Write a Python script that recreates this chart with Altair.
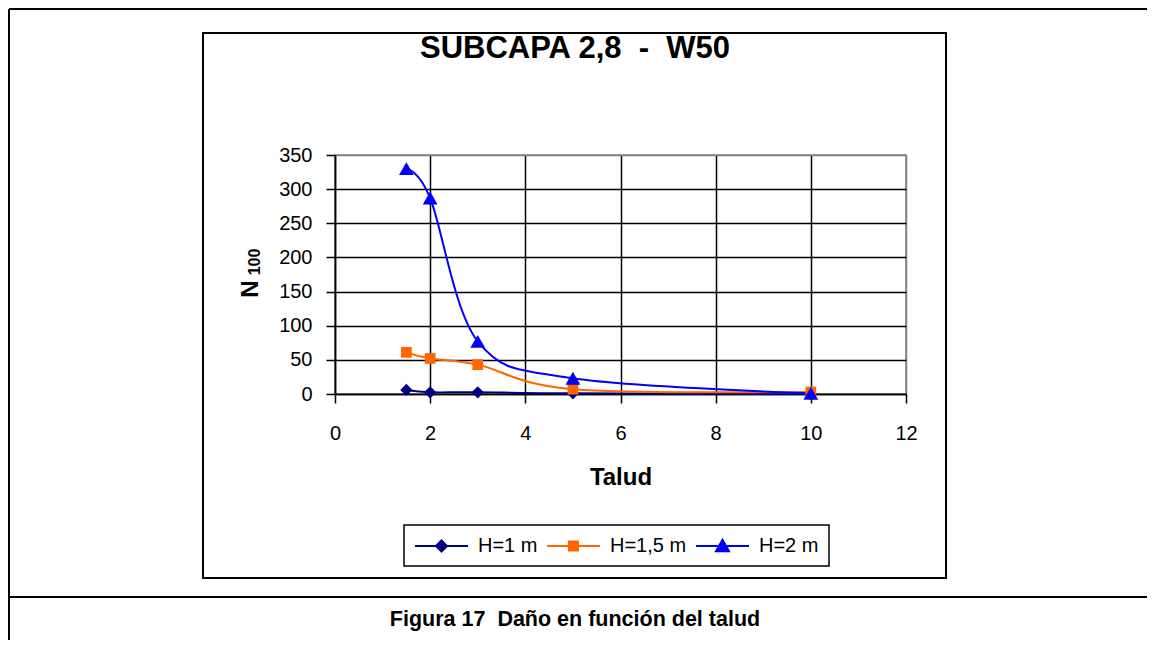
import altair as alt
import pandas as pd

talud = [1.5, 2, 3, 5, 10]
h1 = [6, 2.5, 2.5, 1, 0]
h15 = [61, 52, 43, 7, 3]
h2 = [330, 287, 77, 23, 1]
series = ["H=1 m", "H=1,5 m", "H=2 m"]
colors = ["#000080", "#FF6600", "#0000FF"]
shapes = ["diamond", "square", "triangle-up"]
marker_sizes = [150, 115, 220]
legend_paths = [
    "M-1,0H4.3M1.65,-0.55L2.2,0L1.65,0.55L1.1,0Z",
    "M-1,0H4.3M1.2,-0.45H2.1V0.45H1.2Z",
    "M-1,0H4.3M1.65,-0.62L2.3,0.52H1.0Z",
]
x_ticks = [0, 2, 4, 6, 8, 10, 12]
y_ticks = [0, 50, 100, 150, 200, 250, 300, 350]
title_text = "SUBCAPA 2,8\u00a0\u00a0-\u00a0\u00a0W50"
caption_text = "Figura 17\u00a0\u00a0Daño en función del talud"
y_title_main = "N"
y_title_sub = "100"

rows = []
for name, vals in zip(series, [h1, h15, h2]):
    for t, v in zip(talud, vals):
        rows.append({"Talud": t, "N100": v, "serie": name})
df = pd.DataFrame(rows)

FONT = "Liberation Sans, Arial"

xenc = alt.X("Talud:Q", scale=alt.Scale(domain=[0, 12], nice=False, zero=False),
             axis=alt.Axis(values=x_ticks, title="Talud", format="d",
                           gridColor={"condition": {"test": "datum.value == 12", "value": "#808080"}, "value": "black"}))
yenc = alt.Y("N100:Q", scale=alt.Scale(domain=[0, 350], nice=False),
             axis=alt.Axis(values=y_ticks, title=None,
                           gridColor={"condition": {"test": "datum.value == 350", "value": "#808080"}, "value": "black"}))

base = alt.Chart(df)
cscale = alt.Scale(domain=series, range=colors)

lines = base.mark_line(interpolate="cardinal", strokeWidth=2).encode(
    x=xenc, y=yenc,
    color=alt.Color("serie:N", scale=cscale, legend=None),
)

point_layers = []
for name, col, shp, sz in zip(series, colors, shapes, marker_sizes):
    point_layers.append(
        base.transform_filter(alt.datum.serie == name).mark_point(
            filled=True, opacity=1, shape=shp, size=sz, color=col
        ).encode(x=xenc, y=yenc)
    )

legend_layer = base.transform_filter("false").mark_point(filled=True, opacity=1).encode(
    fill=alt.Fill("serie:N", scale=alt.Scale(domain=series, range=colors), legend=alt.Legend(title=None)),
    stroke=alt.Stroke("serie:N", scale=alt.Scale(domain=series, range=colors), legend=alt.Legend(title=None)),
    shape=alt.Shape("serie:N", scale=alt.Scale(domain=series, range=legend_paths),
                    legend=alt.Legend(title=None, orient="none", direction="horizontal",
                                      legendX=69, legendY=370)),
)

one = alt.Data(values=[{"a": 1}])
inner_box = alt.Chart(one).mark_rect(fill="transparent", stroke="black", strokeWidth=2).encode(
    x=alt.value(-132), x2=alt.value(611), y=alt.value(-122), y2=alt.value(423))
top_rule = alt.Chart(one).mark_rule(color="black", strokeWidth=2).encode(
    x=alt.value(-326), x2=alt.value(840), y=alt.value(-146))
left_rule = alt.Chart(one).mark_rule(color="black", strokeWidth=2).encode(
    x=alt.value(-326), y=alt.value(-146), y2=alt.value(520))
cap_rule = alt.Chart(one).mark_rule(color="black", strokeWidth=2).encode(
    x=alt.value(-326), x2=alt.value(840), y=alt.value(442))
title_mark = alt.Chart(one).mark_text(text=title_text, font=FONT, fontSize=31, fontWeight="bold",
                                      align="center", baseline="middle", color="black").encode(
    x=alt.value(240), y=alt.value(-106))
caption_mark = alt.Chart(one).mark_text(text=caption_text, font=FONT, fontSize=21.5, fontWeight="bold",
                                        align="center", baseline="middle", color="black").encode(
    x=alt.value(240), y=alt.value(465))
ytitle_n = alt.Chart(one).mark_text(text=y_title_main, font=FONT, fontSize=24, fontWeight="bold",
                                    align="center", baseline="middle", color="black", angle=270).encode(
    x=alt.value(-84), y=alt.value(134))
ytitle_sub = alt.Chart(one).mark_text(text=y_title_sub, font=FONT, fontSize=16, fontWeight="bold",
                                      align="center", baseline="middle", color="black", angle=270).encode(
    x=alt.value(-80), y=alt.value(107))

chart = alt.layer(
    inner_box, top_rule, left_rule, cap_rule, title_mark, caption_mark, ytitle_n, ytitle_sub,
    lines, *point_layers, legend_layer,
).resolve_scale(shape="independent", fill="independent", stroke="independent").properties(
    width=571, height=239,
    autosize=alt.AutoSizeParams(type="none"),
    padding={"left": 327, "top": 147, "right": 241, "bottom": 246},
    background="white",
).configure_view(stroke="#808080", strokeWidth=1.5).configure_axis(
    grid=True, gridColor="black", gridWidth=1.5,
    domainColor="black", domainWidth=1.5,
    tickColor="black", tickWidth=1.5, tickSize=9,
    labelFont=FONT, labelFontSize=20, labelColor="black",
    titleFont=FONT, titleFontSize=24, titleFontWeight="bold", titleColor="black",
).configure_axisX(labelPadding=20, titlePadding=22, labelFlush=False).configure_axisY(
    labelPadding=14).configure_legend(
    labelFont=FONT, labelFontSize=20, labelColor="black",
    symbolSize=400, symbolStrokeWidth=2, labelOffset=42, columnPadding=5,
    padding=10, strokeColor="black", strokeWidth=1.5, fillColor="white", cornerRadius=0,
    symbolType="circle", labelLimit=300,
)

chart.save("out.html", embed_options={"renderer": "svg", "actions": False})
